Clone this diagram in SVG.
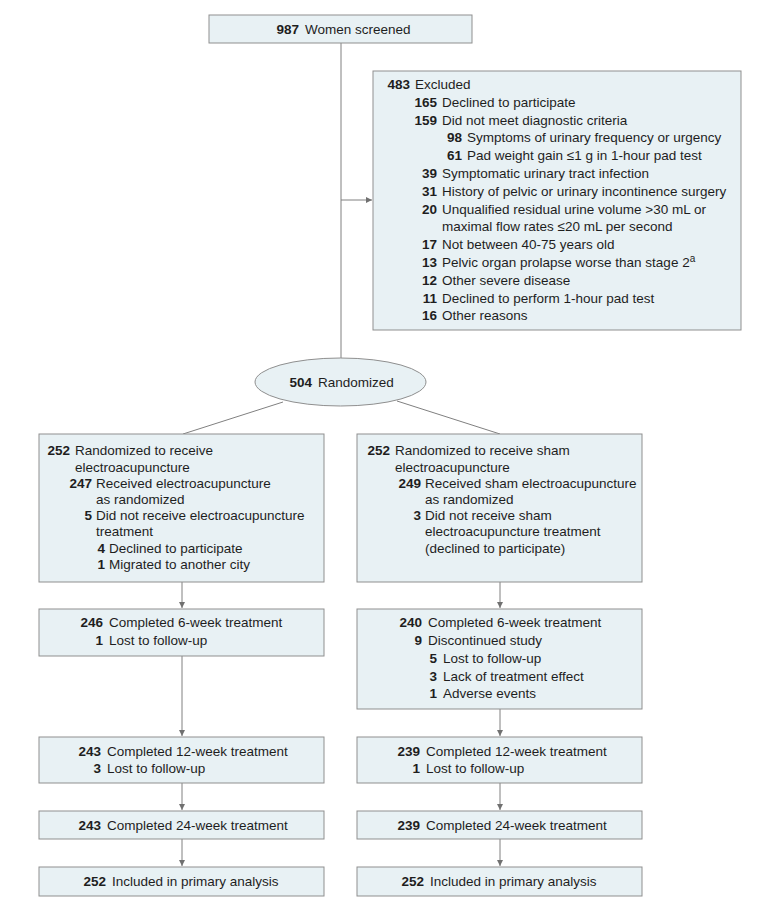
<svg xmlns="http://www.w3.org/2000/svg" width="780" height="908" viewBox="0 0 780 908">
<style>
.bx{fill:#e8f1f4;stroke:#8f8f8f;stroke-width:1}
.t{font-family:"Liberation Sans",Arial,sans-serif;font-size:13.5px;fill:#1e1e1e}
.n{font-weight:bold;text-anchor:end}
.c{fill:none;stroke:#808080;stroke-width:1}
</style>
<defs>
<marker id="ah" viewBox="0 0 10 10" refX="10" refY="5" markerWidth="6" markerHeight="7" markerUnits="userSpaceOnUse" orient="auto"><path d="M0,0 L10,5 L0,10 z" fill="#707070"/></marker>
</defs>
<rect width="780" height="908" fill="#ffffff"/>
<g id="connectors">
<line class="c" x1="341" y1="43" x2="341" y2="358"/>
<line class="c" x1="341" y1="200" x2="372" y2="200" marker-end="url(#ah)"/>
<line class="c" x1="283" y1="402" x2="183" y2="434"/>
<line class="c" x1="397" y1="401" x2="500" y2="434"/>
<line class="c" x1="182" y1="582" x2="182" y2="608" marker-end="url(#ah)"/>
<line class="c" x1="182" y1="656" x2="182" y2="736" marker-end="url(#ah)"/>
<line class="c" x1="182" y1="783" x2="182" y2="810" marker-end="url(#ah)"/>
<line class="c" x1="182" y1="839" x2="182" y2="866" marker-end="url(#ah)"/>
<line class="c" x1="500" y1="582" x2="500" y2="608" marker-end="url(#ah)"/>
<line class="c" x1="500" y1="709" x2="500" y2="736" marker-end="url(#ah)"/>
<line class="c" x1="500" y1="783" x2="500" y2="810" marker-end="url(#ah)"/>
<line class="c" x1="500" y1="839" x2="500" y2="866" marker-end="url(#ah)"/>
</g>
<g id="screened">
<rect class="bx" x="209" y="15" width="263" height="28"/>
<text class="t n" x="299" y="34">987</text><text class="t" x="305" y="34">Women screened</text>
</g>
<g id="excluded">
<rect class="bx" x="373" y="71" width="368" height="259"/>
<text class="t n" x="410" y="89">483</text><text class="t" x="415" y="89">Excluded</text>
<text class="t n" x="437" y="106.8">165</text><text class="t" x="442" y="106.8">Declined to participate</text>
<text class="t n" x="437" y="124.6">159</text><text class="t" x="442" y="124.6">Did not meet diagnostic criteria</text>
<text class="t n" x="462" y="142.4">98</text><text class="t" x="467" y="142.4">Symptoms of urinary frequency or urgency</text>
<text class="t n" x="462" y="160.2">61</text><text class="t" x="467" y="160.2">Pad weight gain ≤1 g in 1-hour pad test</text>
<text class="t n" x="437" y="178">39</text><text class="t" x="442" y="178">Symptomatic urinary tract infection</text>
<text class="t n" x="437" y="195.8">31</text><text class="t" x="442" y="195.8">History of pelvic or urinary incontinence surgery</text>
<text class="t n" x="437" y="213.6">20</text><text class="t" x="442" y="213.6">Unqualified residual urine volume &gt;30 mL or</text>
<text class="t" x="442" y="231.4">maximal flow rates ≤20 mL per second</text>
<text class="t n" x="437" y="249.2">17</text><text class="t" x="442" y="249.2">Not between 40-75 years old</text>
<text class="t n" x="437" y="267">13</text><text class="t" x="442" y="267">Pelvic organ prolapse worse than stage 2<tspan font-size="10" dy="-5">a</tspan></text>
<text class="t n" x="437" y="284.8">12</text><text class="t" x="442" y="284.8">Other severe disease</text>
<text class="t n" x="437" y="302.6">11</text><text class="t" x="442" y="302.6">Declined to perform 1-hour pad test</text>
<text class="t n" x="437" y="320.4">16</text><text class="t" x="442" y="320.4">Other reasons</text>
</g>
<g id="randomized">
<ellipse class="bx" cx="340.5" cy="382" rx="85.5" ry="24"/>
<text class="t n" x="312" y="387">504</text><text class="t" x="318" y="387">Randomized</text>
</g>
<g id="ea-alloc">
<rect class="bx" x="39" y="434" width="285" height="148"/>
<text class="t n" x="70" y="455">252</text><text class="t" x="75" y="455">Randomized to receive</text>
<text class="t" x="75" y="471.5">electroacupuncture</text>
<text class="t n" x="92" y="487.5">247</text><text class="t" x="96" y="487.5">Received electroacupuncture</text>
<text class="t" x="96" y="503.5">as randomized</text>
<text class="t n" x="92" y="520">5</text><text class="t" x="96" y="520">Did not receive electroacupuncture</text>
<text class="t" x="96" y="536">treatment</text>
<text class="t n" x="105" y="553">4</text><text class="t" x="109" y="553">Declined to participate</text>
<text class="t n" x="105" y="569">1</text><text class="t" x="109" y="569">Migrated to another city</text>
</g>
<g id="sham-alloc">
<rect class="bx" x="357" y="434" width="285" height="148"/>
<text class="t n" x="390" y="455">252</text><text class="t" x="395" y="455">Randomized to receive sham</text>
<text class="t" x="395" y="471.5">electroacupuncture</text>
<text class="t n" x="421" y="487.5">249</text><text class="t" x="425" y="487.5">Received sham electroacupuncture</text>
<text class="t" x="425" y="503.5">as randomized</text>
<text class="t n" x="421" y="520">3</text><text class="t" x="425" y="520">Did not receive sham</text>
<text class="t" x="425" y="536">electroacupuncture treatment</text>
<text class="t" x="425" y="553">(declined to participate)</text>
</g>
<g id="ea-6wk">
<rect class="bx" x="39" y="609" width="285" height="47"/>
<text class="t n" x="103" y="627">246</text><text class="t" x="109" y="627">Completed 6-week treatment</text>
<text class="t n" x="103" y="645">1</text><text class="t" x="109" y="645">Lost to follow-up</text>
</g>
<g id="sham-6wk">
<rect class="bx" x="357" y="609" width="285" height="100"/>
<text class="t n" x="422" y="627">240</text><text class="t" x="428" y="627">Completed 6-week treatment</text>
<text class="t n" x="422" y="645">9</text><text class="t" x="428" y="645">Discontinued study</text>
<text class="t n" x="437" y="663">5</text><text class="t" x="443" y="663">Lost to follow-up</text>
<text class="t n" x="437" y="681">3</text><text class="t" x="443" y="681">Lack of treatment effect</text>
<text class="t n" x="437" y="698">1</text><text class="t" x="443" y="698">Adverse events</text>
</g>
<g id="ea-12wk">
<rect class="bx" x="39" y="737" width="285" height="46"/>
<text class="t n" x="101" y="756">243</text><text class="t" x="107" y="756">Completed 12-week treatment</text>
<text class="t n" x="101" y="773">3</text><text class="t" x="107" y="773">Lost to follow-up</text>
</g>
<g id="sham-12wk">
<rect class="bx" x="357" y="737" width="285" height="46"/>
<text class="t n" x="420" y="756">239</text><text class="t" x="426" y="756">Completed 12-week treatment</text>
<text class="t n" x="420" y="773">1</text><text class="t" x="426" y="773">Lost to follow-up</text>
</g>
<g id="ea-24wk">
<rect class="bx" x="39" y="811" width="285" height="28"/>
<text class="t n" x="101" y="829.5">243</text><text class="t" x="107" y="829.5">Completed 24-week treatment</text>
</g>
<g id="sham-24wk">
<rect class="bx" x="357" y="811" width="285" height="28"/>
<text class="t n" x="420" y="829.5">239</text><text class="t" x="426" y="829.5">Completed 24-week treatment</text>
</g>
<g id="ea-analysis">
<rect class="bx" x="39" y="867" width="285" height="29"/>
<text class="t n" x="106" y="886">252</text><text class="t" x="112" y="886">Included in primary analysis</text>
</g>
<g id="sham-analysis">
<rect class="bx" x="357" y="867" width="285" height="29"/>
<text class="t n" x="424" y="886">252</text><text class="t" x="430" y="886">Included in primary analysis</text>
</g>
</svg>
